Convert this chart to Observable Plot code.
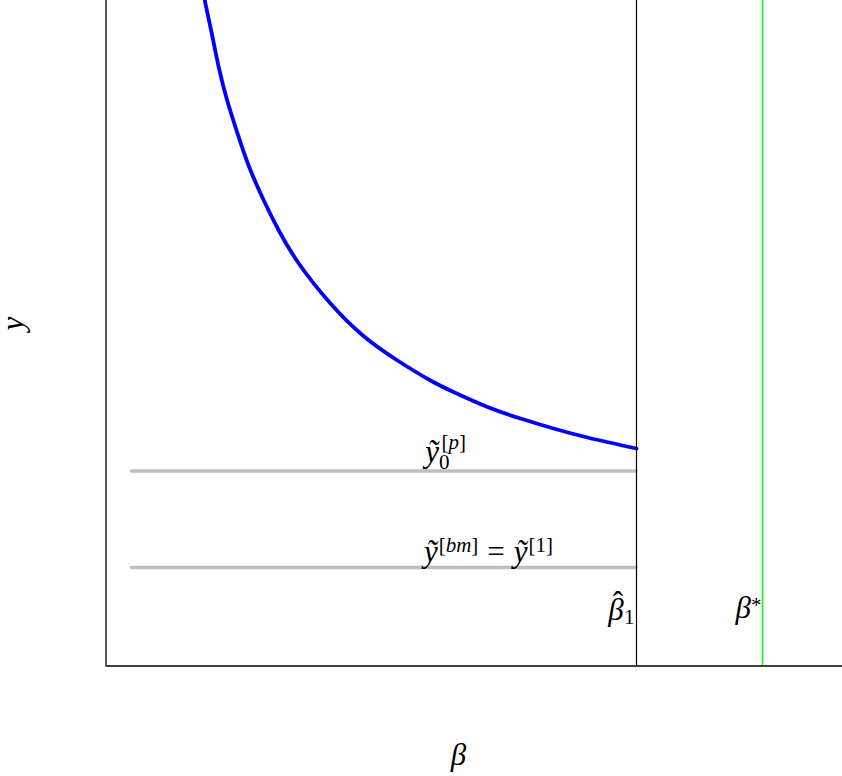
<!DOCTYPE html>
<html>
<head>
<meta charset="utf-8">
<script src="https://cdn.jsdelivr.net/npm/d3@7"></script>
<script src="https://cdn.jsdelivr.net/npm/@observablehq/plot@0.6"></script>
<style>
  html, body { margin: 0; padding: 0; background: #fff; }
  #chart svg { display: block; }
</style>
</head>
<body>
<div id="chart"></div>
<script>
// ---- data (abstract units) ----
const betaValues = [0.988, 1.062, 1.128, 1.212, 1.312, 1.428, 1.578, 1.728, 1.928, 2.245, 2.575, 2.915, 3.245, 3.475, 3.815, 4.145, 4.475, 4.815, 5.305];
const yValues    = [6.655, 6.305, 5.985, 5.655, 5.335, 5.000, 4.655, 4.355, 4.025, 3.625, 3.300, 3.055, 2.855, 2.740, 2.590, 2.475, 2.375, 2.285, 2.175];
const betaHat1 = 5.305;
const betaStar = 6.565;
const grayStartBeta = 0.26;
const grayLevels = [1.95, 0.985];
const xDomain = [0, 7.365];
const yDomain = [0, 6.655];

const annotationText = ["ỹ₀[p]", "ỹ[bm] = ỹ[1]", "β̂₁", "β*"];
const annotationBeta = [3.395, 3.825, 5.285, 6.555];
const annotationY    = [2.045, 1.045, 0.465, 0.485];

const xLabel = "β";
const yLabel = "y";

// ---- math typesetting of the annotations (tspans) ----
const labelParts = new Map([
  ["ỹ₀[p]", [
    {t: "ỹ", it: true, size: 31},
    {t: "0", size: 21, shift: 7},
    {t: "[", size: 21, shift: -13, dx: -8},
    {t: "p", it: true, size: 21, shift: -13},
    {t: "]", size: 21, shift: -13}
  ]],
  ["ỹ[bm] = ỹ[1]", [
    {t: "ỹ", it: true, size: 31},
    {t: "[", size: 21, shift: -10, dx: 1},
    {t: "bm", it: true, size: 21, shift: -10},
    {t: "]", size: 21, shift: -10},
    {t: "=", size: 31, dx: 9},
    {t: "ỹ", it: true, size: 31, dx: 9},
    {t: "[1]", size: 21, shift: -10, dx: 1}
  ]],
  ["β̂₁", [
    {t: "β", it: true, size: 31},
    {t: "ˆ", size: 31, shift: -7, dx: -11},
    {t: "1", size: 21, shift: 4.5, dx: 1}
  ]],
  ["β*", [
    {t: "β", it: true, size: 31},
    {t: "*", size: 21, shift: -6}
  ]]
]);

const curve = betaValues.map((b, i) => ({beta: b, y: yValues[i]}));
const annotations = annotationText.map((t, i) => ({t, beta: annotationBeta[i], y: annotationY[i]}));
const middleAnn = annotations.slice(0, 2);
const endAnn = annotations.slice(2);

const serif = "'Liberation Serif', 'DejaVu Serif', serif";

const svg = Plot.plot({
  width: 842,
  height: 776,
  marginLeft: 105.5,
  marginRight: 0,
  marginTop: 0,
  marginBottom: 110.5,
  style: {background: "#fff", fontFamily: serif, overflow: "visible"},
  x: {domain: xDomain, axis: null},
  y: {domain: yDomain, axis: null},
  marks: [
    Plot.ruleY(grayLevels, {x1: grayStartBeta, x2: betaHat1, stroke: "#bfbfbf", strokeWidth: 3.5, strokeLinecap: "round"}),
    Plot.line(curve, {x: "beta", y: "y", stroke: "#0000ff", strokeWidth: 3.8, curve: "natural", clip: true}),
    Plot.ruleX([betaHat1], {stroke: "#000", strokeWidth: 1.2}),
    Plot.ruleX([betaStar], {stroke: "#00ff00", strokeWidth: 1.5}),
    Plot.ruleX([0], {stroke: "#000", strokeWidth: 1.3}),
    Plot.ruleY([0], {stroke: "#000", strokeWidth: 1.3}),
    Plot.text(middleAnn, {x: "beta", y: "y", text: "t", textAnchor: "middle", lineAnchor: "bottom", fontSize: 31, fill: "#000"}),
    Plot.text(endAnn, {x: "beta", y: "y", text: "t", textAnchor: "end", lineAnchor: "bottom", fontSize: 31, fill: "#000"}),
    Plot.text([xLabel], {text: d => d, frameAnchor: "bottom", dx: -15.75, dy: 98.5, lineAnchor: "bottom", fontSize: 31, fontStyle: "italic", fill: "#000"}),
    Plot.text([yLabel], {text: d => d, frameAnchor: "left", dx: -83, dy: -2.75, rotate: -90, lineAnchor: "bottom", fontSize: 31, fontStyle: "italic", fill: "#000"})
  ]
});

d3.select(svg).selectAll("text").each(function () {
  const parts = labelParts.get(this.textContent);
  if (!parts) return;
  this.textContent = "";
  let cur = 0;
  for (const p of parts) {
    const ts = document.createElementNS("http://www.w3.org/2000/svg", "tspan");
    ts.textContent = p.t;
    const shift = p.shift || 0;
    if (shift - cur !== 0) ts.setAttribute("dy", shift - cur);
    cur = shift;
    if (p.dx) ts.setAttribute("dx", p.dx);
    ts.setAttribute("font-size", p.size);
    ts.setAttribute("font-style", p.it ? "italic" : "normal");
    this.appendChild(ts);
  }
});

document.getElementById("chart").appendChild(svg);
</script>
</body>
</html>
